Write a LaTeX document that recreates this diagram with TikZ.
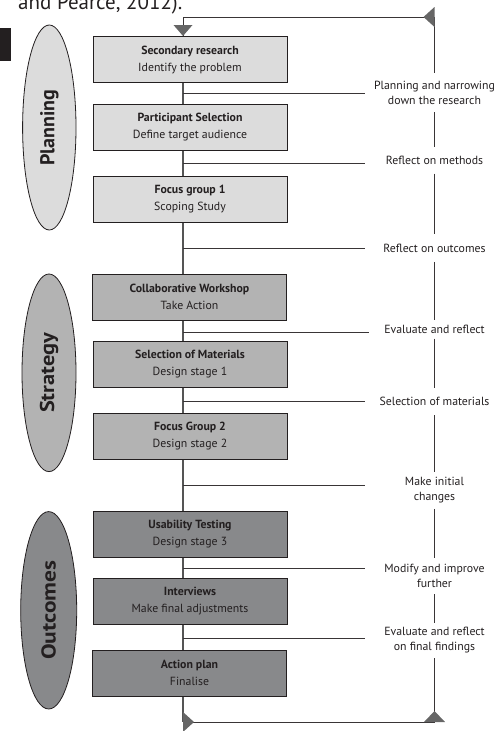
\documentclass[tikz,border=0pt]{standalone}
\usepackage{fontspec}
\setmainfont{PT Sans}
\usetikzlibrary{shapes.geometric}
\definecolor{lightbox}{HTML}{DCDCDC}
\definecolor{midbox}{HTML}{B3B3B3}
\definecolor{darkbox}{HTML}{88898B}
\definecolor{ink}{HTML}{231F20}
\definecolor{tri}{HTML}{666666}
\definecolor{trunk}{HTML}{555555}
\begin{document}
\begin{tikzpicture}[x=1pt,y=-1pt,
  stage/.style={draw=ink, line width=1pt, minimum width=194pt, minimum height=46pt,
    inner sep=0pt, align=center, font=\fontsize{11.8}{17}\selectfont, text=ink},
  phase/.style={ellipse, draw=ink, line width=0.8pt, inner sep=0pt},
  phasetext/.style={rotate=90, font=\fontsize{20}{20}\selectfont\bfseries, text=ink, inner sep=0pt},
  note/.style={align=center, font=\fontsize{11.8}{15}\selectfont, text=ink, inner sep=0pt, minimum width=10pt},
  trunkline/.style={draw=trunk, line width=1.3pt},
  branch/.style={draw=ink!90, line width=1pt},
  side/.style={draw=ink!90, line width=1pt},
  marker/.style={fill=tri, draw=none}
]
\useasboundingbox (0,0) rectangle (496,731);
\clip (0,0) rectangle (496,731);

% page remnants
\node[anchor=base west, inner sep=0pt, font=\fontsize{21}{21}\selectfont, text=ink] (cite) at (18,9) {and Pearce, 2012).};
\fill[ink] (0,28) rectangle (11,61);

% phase ellipses
\node[phase, fill=lightbox, minimum width=53.4pt, minimum height=205pt] (ph1) at (49.3,127.5) {};
\node[phasetext] (ph1t) at (ph1.center) {Planning};
\node[phase, fill=midbox, minimum width=54pt, minimum height=197.6pt] (ph2) at (49,372.8) {};
\node[phasetext] (ph2t) at (ph2.center) {\scalebox{1.12}[1]{Strategy}};
\node[phase, fill=darkbox, minimum width=56pt, minimum height=197.4pt] (ph3) at (48.7,610.3) {};
\node[phasetext] (ph3t) at (ph3.center) {\scalebox{1.17}[1]{Outcomes}};

% stages
\node[stage, fill=lightbox] (b1) at (190,59.5) {\textbf{Secondary research}\\Identify the problem};
\node[stage, fill=lightbox] (b2) at (190,127) {\textbf{Participant Selection}\\Define target audience};
\node[stage, fill=lightbox] (b3) at (190,199) {\textbf{Focus group 1}\\Scoping Study};
\node[stage, fill=midbox] (b4) at (189.5,297) {\textbf{Collaborative Workshop}\\Take Action};
\node[stage, fill=midbox] (b5) at (190,364) {\textbf{Selection of Materials}\\Design stage 1};
\node[stage, fill=midbox] (b6) at (190,436) {\textbf{Focus Group 2}\\Design stage 2};
\node[stage, fill=darkbox] (b7) at (190,534.3) {\textbf{Usability Testing}\\Design stage 3};
\node[stage, fill=darkbox] (b8) at (190,601.3) {\textbf{Interviews}\\Make final adjustments};
\node[stage, fill=darkbox] (b9) at (189.5,673.3) {\textbf{Action plan}\\Finalise};

% loop corners
\coordinate (ctl) at (183,17);
\coordinate (ctr) at (434.5,17);
\coordinate (cbl) at (183,722);
\coordinate (cbr) at (434.5,722);

% trunk
\foreach \a/\b in {b1/b2,b2/b3,b3/b4,b4/b5,b5/b6,b6/b7,b7/b8,b8/b9}
  \draw[trunkline] (\a.south -| ctl) -- (\b.north -| ctl);

% reflection labels
\node[note, minimum height=39pt] (l1) at (434.5,92.5) {Planning and narrowing\\down the research};
\node[note, minimum height=26pt] (l2) at (434.5,160.5) {Reflect on methods};
\node[note, minimum height=27.4pt] (l3) at (434.5,248) {Reflect on outcomes};
\node[note, minimum height=18.3pt] (l4) at (434.5,329.2) {Evaluate and reflect};
\node[note, minimum height=26.7pt] (l5) at (434.5,401.5) {Selection of materials};
\node[note, minimum height=36.3pt] (l6) at (434.5,490.5) {Make initial\\changes};
\node[note, minimum height=36pt] (l7) at (434.5,576) {Modify and improve\\further};
\node[note, minimum height=35pt] (l8) at (434.5,640.5) {Evaluate and reflect\\on final findings};

% right-hand line
\foreach \a/\b in {l1/l2,l2/l3,l3/l4,l4/l5,l5/l6,l6/l7,l7/l8}
  \draw[side] (\a.south) -- (\b.north);

% branches
\foreach \i/\y/\e in {1/93.3/365,2/163.3/365,3/248.3/365,4/332.3/369,5/401/365,6/485.7/365,7/568.3/365,8/638.3/365}{
  \coordinate (s\i) at (183,\y);
  \coordinate (e\i) at (\e,\y);
  \draw[branch] (s\i) -- (e\i);
}

% feedback loop
\coordinate (a1) at (b1.north -| ctl);
\draw[side] (l1.north) -- (ctr) -- (ctl) -- (a1);
\draw[trunkline] (b9.south -| ctl) -- (cbl);
\draw[side] (cbl) -- (cbr) -- (l8.south);

% arrow markers
\fill[marker] (a1) -- ++(-9.5,-11) -- ++(19,0) -- cycle;
\fill[marker] (ctr) ++(0,-10) -- ++(0,20) -- ++(-11,-10) -- cycle;
\fill[marker] (cbl) ++(0,-10) -- ++(0,20) -- ++(11,-10) -- cycle;
\fill[marker] (cbr) ++(-10.5,0) -- ++(21,0) -- ++(-10.5,-11) -- cycle;
\end{tikzpicture}
\end{document}
